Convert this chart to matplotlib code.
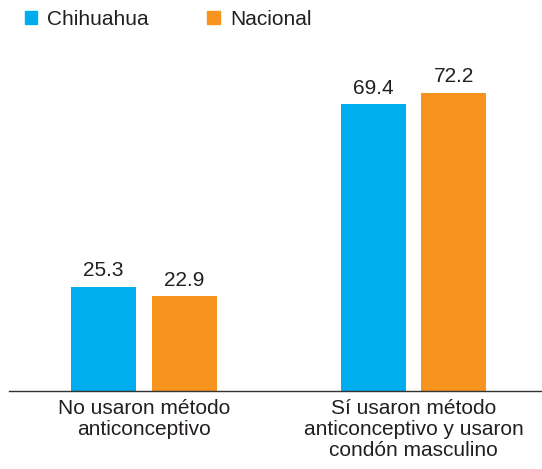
import numpy as np
from matplotlib import pyplot as plt
from matplotlib.patches import Patch

categorias = ["No usaron método\nanticonceptivo",
              "Sí usaron método\nanticonceptivo y usaron\ncondón masculino"]
chihuahua = [25.3, 69.4]
nacional = [22.9, 72.2]
series = ["Chihuahua", "Nacional"]

azul = "#00AEEF"
naranja = "#F7941D"
texto = "#231F20"

plt.rcParams['font.family'] = ['Liberation Sans', 'DejaVu Sans']

fig = plt.figure(figsize=(5.42, 4.69), dpi=100)
ax = fig.add_axes([9 / 542, 78 / 469, 1 - 9 / 542, 1 - 78 / 469])

x = np.arange(len(categorias))
ancho = 0.241
desp = 0.150

b1 = ax.bar(x - desp, chihuahua, ancho, color=azul)
b2 = ax.bar(x + desp, nacional, ancho, color=naranja)

for barras in (b1, b2):
    for b in barras:
        ax.annotate(f"{b.get_height():.1f}", (b.get_x() + b.get_width() / 2, b.get_height()),
                    xytext=(0, 5), textcoords="offset points", ha="center", va="bottom",
                    fontsize=15, color=texto)

ax.set_xlim(-0.501, 1.477)
ax.set_ylim(0, 94.7)
ax.set_xticks(x)
ax.set_xticklabels(categorias, fontsize=15, color=texto, linespacing=1.12)
ax.tick_params(axis="x", length=0, pad=6)
ax.set_yticks([])
for s in ["top", "right", "left"]:
    ax.spines[s].set_visible(False)
ax.spines["bottom"].set_color("#333333")
ax.spines["bottom"].set_linewidth(1.0)

handles = [Patch(color=azul), Patch(color=naranja)]
fig.legend(handles, series, loc="upper left", bbox_to_anchor=(10 / 542, 1.0 + 5 / 469),
           ncol=2, frameon=False, fontsize=15, handlelength=0.6, handleheight=0.6,
           handletextpad=0.5, columnspacing=2.8, labelcolor=texto, borderpad=0.2)

plt.savefig("out.png", dpi=100)
